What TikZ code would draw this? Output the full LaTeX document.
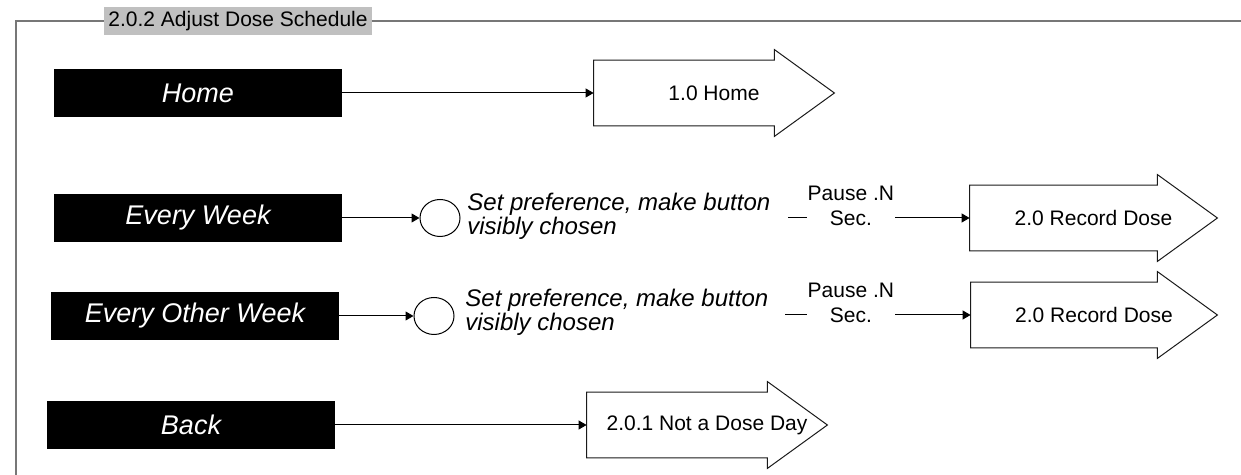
\documentclass[tikz,border=0pt]{standalone}
\usepackage{fontspec}
\setmainfont{Liberation Sans}
\usetikzlibrary{arrows.meta,calc,shapes.geometric}
\definecolor{FrameGray}{HTML}{777777}
\definecolor{TitleGray}{HTML}{C0C0C0}
\definecolor{Ink}{HTML}{1A1A1A}

\begin{document}
\begin{tikzpicture}[x=0.5pt,y=0.5pt,>={Triangle[length=4pt,width=4.5pt]},
  button/.style={fill=black,text=white,minimum width=144pt,minimum height=24pt,inner sep=0pt,font=\fontsize{13.5}{16}\selectfont\itshape},
  page/.style={minimum height=32.5pt,inner sep=0pt,font=\fontsize{10.5}{12}\selectfont},
  pageout/.style={draw=Ink,line width=0.5pt,line join=miter},
  choice/.style={ellipse,draw=black,line width=0.5pt,minimum width=20pt,minimum height=18.5pt,inner sep=0pt},
  action/.style={anchor=west,align=left,inner sep=0pt,font=\fontsize{12}{10.5}\selectfont\itshape},
  pause/.style={fill=white,align=center,inner sep=0pt,minimum width=44pt,yshift=6.25pt,font=\fontsize{10.5}{12.5}\selectfont},
  link/.style={->,black,line width=0.5pt}]
\useasboundingbox (0,0) rectangle (1241,475);
% frame with title tab
\node[fill=TitleGray,anchor=west,inner sep=2pt,minimum height=13.5pt,font=\fontsize{10.5}{12}\selectfont] (title) at (104,454) {2.0.2 Adjust Dose Schedule};
\draw[FrameGray,line width=0.6pt] (16,0) -- (16,454) -- (title.west);
\draw[FrameGray,line width=0.6pt] (title.east) -- (1241,454);
% buttons
\node[button] (home) at (198,382) {Home};
\node[button] (weekly) at (198,257) {Every Week};
\node[button] (biweekly) at (195,159) {Every Other Week};
\node[button] (back) at (191,50) {Back};
% target pages
\node[page,minimum width=120pt] (pHome) at (714,382) {1.0 Home};
\node[page,minimum width=123.5pt] (pRec1) at (1093.5,257) {2.0 Record Dose};
\node[page,minimum width=123pt] (pRec2) at (1094,160) {2.0 Record Dose};
\node[page,minimum width=120pt] (pSkip) at (707,50) {2.0.1 Not a Dose Day};
\foreach \p in {pHome,pRec1,pRec2,pSkip}
  \draw[pageout] (\p.south west) -- (\p.north west) -- ($(\p.north east)+(-60,0)$) -- ++(0,10.5)
    -- (\p.east) -- ($(\p.south east)+(-60,-10.5)$) -- ++(0,10.5) -- cycle;
% choices
\node[choice] (pick1) at (440,257) {};
\node[choice] (pick2) at (434,159) {};
\node[action] (act1) at (467,259) {Set preference, make button\\visibly chosen};
\node[action] (act2) at (465,163) {Set preference, make button\\visibly chosen};
\coordinate (wait1) at (788,257);
\coordinate (wait2) at (785,160);
% connectors
\draw[link] (home.east) -- (pHome.west);
\draw[link] (weekly.east) -- (pick1.west);
\draw[link] (biweekly.east) -- (pick2.west);
\draw[link] (back.east) -- (pSkip.west);
\draw[link] (wait1) -- node[pause,pos=0.346] {Pause .N\\Sec.} (pRec1.west);
\draw[link] (wait2) -- node[pause,pos=0.355] {Pause .N\\Sec.} (pRec2.west);
\end{tikzpicture}
\end{document}
